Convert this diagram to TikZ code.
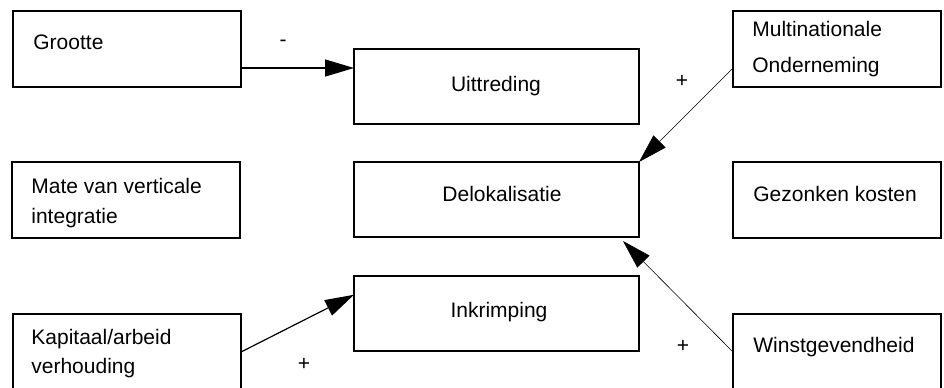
\documentclass[tikz,border=0pt]{standalone}
\usepackage{fontspec}
\setmainfont{Liberation Sans}
\usetikzlibrary{arrows.meta,calc}
\begin{document}
\begin{tikzpicture}[x=0.5pt,y=-0.5pt,>={Triangle[length=14.5pt,width=8.5pt]},
	font=\fontsize{10.5}{12}\selectfont, line cap=butt,
	box/.style={draw,line width=1.2pt,anchor=north west,inner sep=0pt,outer sep=0pt,minimum height=38pt},
	lcol/.style={box,minimum width=114pt},
	mcol/.style={box,minimum width=142.5pt,minimum height=37.5pt},
	rcol/.style={box,minimum width=104pt},
	txt/.style={inner sep=0pt,anchor=base west},
	ctxt/.style={inner sep=0pt,anchor=base},
	sign/.style={inner sep=0pt}]
	\useasboundingbox (0,0) rectangle (944,387);
	\clip (0,0) rectangle (944,387);
	% boxes
	\foreach \n/\x/\y in {grootte/13/11,mate/12/162,kapitaal/13/314} \node[lcol](\n) at (\x,\y){};
	\foreach \n/\x/\y in {uittreding/354/49,deloka/354/162,inkrimping/354/276} \node[mcol](\n) at (\x,\y){};
	\foreach \n/\x/\y in {multi/733/11,gezonken/733/162,winst/733/314} \node[rcol](\n) at (\x,\y){};
	% texts
	\node[txt](grootte-t) at (33,49) {Grootte};
	\node[txt](mate-t1) at (31,193) {Mate van verticale};
	\node[txt](mate-t2) at (31,223) {integratie};
	\node[txt](kapitaal-t1) at (31,344) {Kapitaal/arbeid};
	\node[txt](kapitaal-t2) at (31,373) {verhouding};
	\node[ctxt](uittreding-t) at (496,91) {Uittreding};
	\node[ctxt](deloka-t) at (502,201) {Delokalisatie};
	\node[ctxt](inkrimping-t) at (499,317) {Inkrimping};
	\node[txt](multi-t1) at (752,36) {Multinationale};
	\node[txt](multi-t2) at (752,72) {Onderneming};
	\node[txt](gezonken-t) at (753,201) {Gezonken kosten};
	\node[txt](winst-t) at (753,352) {Winstgevendheid};
	% arrows
	\coordinate (g1) at ($(grootte.north east)!.75!(grootte.south east)$);
	\draw[->,line width=0.75pt] (g1) -- (g1 -| uittreding.west);
	\draw[->,line width=0.3pt] ($(multi.north west)!.75!(multi.south west)$) -- (deloka.north east);
	\draw[->,line width=0.3pt] (winst.west) -- ($(deloka.south east)+(-16,4)$);
	\draw[->,line width=0.6pt] (kapitaal.east) -- ($(inkrimping.north west)!.25!(inkrimping.south west)$);
	% signs
	\node[sign](s1) at (283,43) {-};
	\node[sign](s2) at (682,81) {+};
	\node[sign](s3) at (304,364) {+};
	\node[sign](s4) at (683,346) {+};
\end{tikzpicture}
\end{document}
